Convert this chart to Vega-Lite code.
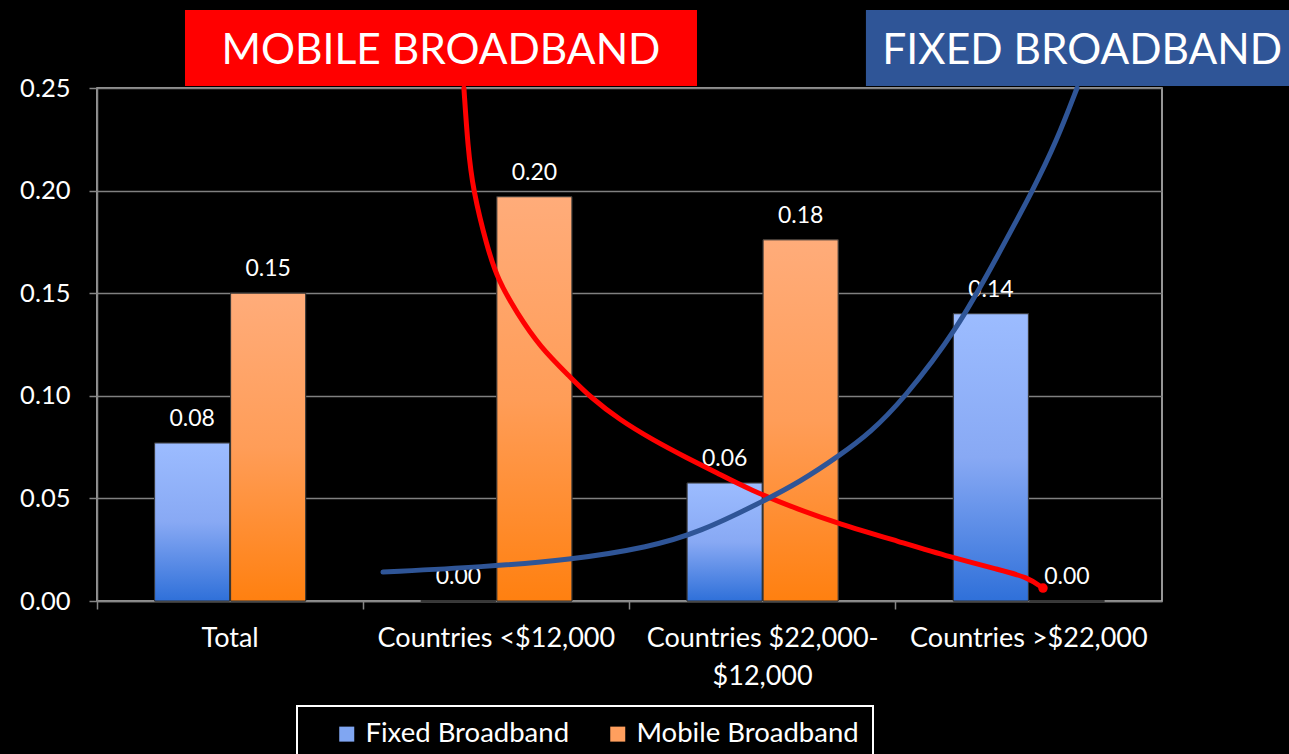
{
  "$schema": "https://vega.github.io/schema/vega-lite/v6.json",
  "width": 1065,
  "height": 513,
  "autosize": {"type": "none"},
  "padding": {"left": 97, "top": 88, "right": 127, "bottom": 153},
  "background": "#000000",
  "config": {
    "font": "Lato",
    "view": {"stroke": "#c8c8c8", "strokeWidth": 1.5},
    "legend": {"strokeWidth": 2}
  },
  "datasets": {
    "bars": [
      {"category": "Total", "series": "Fixed Broadband", "value": 0.077},
      {"category": "Total", "series": "Mobile Broadband", "value": 0.150},
      {"category": "Countries <$12,000", "series": "Fixed Broadband", "value": 0.0},
      {"category": "Countries <$12,000", "series": "Mobile Broadband", "value": 0.197},
      {"category": "Countries $22,000-$12,000", "series": "Fixed Broadband", "value": 0.0575},
      {"category": "Countries $22,000-$12,000", "series": "Mobile Broadband", "value": 0.176},
      {"category": "Countries >$22,000", "series": "Fixed Broadband", "value": 0.140},
      {"category": "Countries >$22,000", "series": "Mobile Broadband", "value": 0.0}
    ],
    "boxes": [
      {"kind": "mobile", "label": "MOBILE BROADBAND", "x0": 0.3305, "x1": 2.2535, "y0": 0.2510, "y1": 0.2880, "xc": 1.292, "yc": 0.2680},
      {"kind": "fixed", "label": "FIXED BROADBAND", "x0": 2.888, "x1": 4.52, "y0": 0.2510, "y1": 0.2880, "xc": 3.700, "yc": 0.2680}
    ],
    "curves": [
      {"series": "mobile", "x": 1.378, "y": 0.2500},
      {"series": "mobile", "x": 1.393, "y": 0.2212},
      {"series": "mobile", "x": 1.412, "y": 0.2003},
      {"series": "mobile", "x": 1.465, "y": 0.1725},
      {"series": "mobile", "x": 1.506, "y": 0.1564},
      {"series": "mobile", "x": 1.577, "y": 0.1404},
      {"series": "mobile", "x": 1.664, "y": 0.1238},
      {"series": "mobile", "x": 1.777, "y": 0.1092},
      {"series": "mobile", "x": 1.852, "y": 0.0994},
      {"series": "mobile", "x": 1.964, "y": 0.0882},
      {"series": "mobile", "x": 2.088, "y": 0.0785},
      {"series": "mobile", "x": 2.216, "y": 0.0697},
      {"series": "mobile", "x": 2.329, "y": 0.0624},
      {"series": "mobile", "x": 2.453, "y": 0.0541},
      {"series": "mobile", "x": 2.640, "y": 0.0443},
      {"series": "mobile", "x": 2.779, "y": 0.0380},
      {"series": "mobile", "x": 3.016, "y": 0.0288},
      {"series": "mobile", "x": 3.204, "y": 0.0214},
      {"series": "mobile", "x": 3.392, "y": 0.0151},
      {"series": "mobile", "x": 3.493, "y": 0.0117},
      {"series": "mobile", "x": 3.553, "y": 0.0063},
      {"series": "fixed", "x": 1.074, "y": 0.0141},
      {"series": "fixed", "x": 1.450, "y": 0.0166},
      {"series": "fixed", "x": 1.777, "y": 0.0200},
      {"series": "fixed", "x": 2.077, "y": 0.0263},
      {"series": "fixed", "x": 2.265, "y": 0.0336},
      {"series": "fixed", "x": 2.490, "y": 0.0478},
      {"series": "fixed", "x": 2.640, "y": 0.0580},
      {"series": "fixed", "x": 2.791, "y": 0.0711},
      {"series": "fixed", "x": 2.903, "y": 0.0819},
      {"series": "fixed", "x": 3.027, "y": 0.0980},
      {"series": "fixed", "x": 3.230, "y": 0.1321},
      {"series": "fixed", "x": 3.380, "y": 0.1676},
      {"series": "fixed", "x": 3.516, "y": 0.2003},
      {"series": "fixed", "x": 3.606, "y": 0.2247},
      {"series": "fixed", "x": 3.681, "y": 0.2500}
    ]
  },
  "layer": [
    {
      "data": {"name": "bars"},
      "encoding": {
        "x": {
          "field": "category", "type": "nominal",
          "sort": ["Total", "Countries <$12,000", "Countries $22,000-$12,000", "Countries >$22,000"],
          "scale": {"paddingInner": 0, "paddingOuter": 0},
          "axis": {
            "title": null, "labelAngle": 0, "bandPosition": 0,
            "tickSize": 8, "tickColor": "#868686", "tickWidth": 1.5,
            "domainColor": "#868686", "domainWidth": 1.5,
            "labelColor": "#ffffff", "labelFontSize": 27, "labelPadding": 16,
            "labelLineHeight": 38, "labelLimit": 400,
            "labelExpr": "datum.value == 'Countries $22,000-$12,000' ? ['Countries $22,000-', '$12,000'] : datum.label",
            "grid": false
          }
        },
        "xOffset": {
          "field": "series", "type": "nominal",
          "sort": ["Fixed Broadband", "Mobile Broadband"],
          "scale": {"paddingInner": 0.013, "paddingOuter": 0.758}
        },
        "y": {
          "field": "value", "type": "quantitative",
          "scale": {"domain": [0, 0.25], "nice": false, "zero": true},
          "axis": {
            "title": null, "values": [0, 0.05, 0.1, 0.15, 0.2, 0.25], "format": ".2f",
            "grid": true, "gridColor": "#808080", "gridWidth": 1.5,
            "tickSize": 8, "tickColor": "#868686", "tickWidth": 1.5,
            "domainColor": "#868686", "domainWidth": 1.5,
            "labelColor": "#ffffff", "labelFontSize": 25.5, "labelPadding": 19
          }
        }
      },
      "layer": [
        {
          "mark": {"type": "bar", "stroke": "#333333", "strokeWidth": 1},
          "encoding": {
            "color": {
              "field": "series", "type": "nominal",
              "scale": {"domain": ["Fixed Broadband", "Mobile Broadband"], "range": ["#80a6f2", "#ff9f5e"]},
              "legend": {
                "orient": "none", "legendX": 200, "legendY": 618, "direction": "horizontal",
                "title": null, "fillColor": "#000000", "strokeColor": "#ffffff",
                "padding": 14, "labelFontSize": 27.5, "labelColor": "#ffffff", "labelLimit": 400,
                "symbolType": "square", "symbolSize": 225, "symbolStrokeWidth": 0,
                "labelOffset": 5, "columnPadding": 12, "symbolOffset": 22
              }
            }
          }
        },
        {
          "transform": [{"filter": "datum.series == 'Fixed Broadband'"}],
          "mark": {
            "type": "bar", "stroke": "#333333", "strokeWidth": 1,
            "color": {"gradient": "linear", "x1": 0, "y1": 0, "x2": 0, "y2": 1, "stops": [{"offset": 0, "color": "#9cbcff"}, {"offset": 0.5, "color": "#88a9f4"}, {"offset": 1, "color": "#2f70d9"}]}
          }
        },
        {
          "transform": [{"filter": "datum.series == 'Mobile Broadband'"}],
          "mark": {
            "type": "bar", "stroke": "#333333", "strokeWidth": 1,
            "color": {"gradient": "linear", "x1": 0, "y1": 0, "x2": 0, "y2": 1, "stops": [{"offset": 0, "color": "#ffac7a"}, {"offset": 0.5, "color": "#ff9d58"}, {"offset": 1, "color": "#ff8010"}]}
          }
        },
        {
          "mark": {"type": "text", "dy": -17, "baseline": "alphabetic", "fontSize": 23, "color": "#ffffff"},
          "encoding": {"text": {"field": "value", "type": "quantitative", "format": ".2f"}}
        }
      ]
    },
    {
      "layer": [
        {
          "data": {"name": "boxes"},
          "mark": {"type": "rect"},
          "encoding": {
            "x": {"field": "x0", "type": "quantitative", "scale": {"domain": [0, 4], "nice": false, "zero": false}, "axis": null},
            "x2": {"field": "x1"},
            "y": {"field": "y0", "type": "quantitative", "scale": {"domain": [0, 0.25], "nice": false, "zero": false}, "axis": null},
            "y2": {"field": "y1"},
            "fill": {"field": "kind", "type": "nominal", "scale": {"domain": ["mobile", "fixed"], "range": ["#ff0000", "#2f5597"]}, "legend": null}
          }
        },
        {
          "data": {"name": "boxes"},
          "mark": {"type": "text", "fontSize": 42.5, "color": "#ffffff", "align": "center", "baseline": "middle"},
          "encoding": {
            "x": {"field": "xc", "type": "quantitative", "scale": {"domain": [0, 4], "nice": false, "zero": false}, "axis": null},
            "y": {"field": "yc", "type": "quantitative", "scale": {"domain": [0, 0.25], "nice": false, "zero": false}, "axis": null},
            "text": {"field": "label", "type": "nominal"}
          }
        },
        {
          "data": {"name": "curves"},
          "mark": {"type": "line", "strokeWidth": 5, "strokeCap": "round", "interpolate": "basis"},
          "encoding": {
            "x": {"field": "x", "type": "quantitative", "scale": {"domain": [0, 4], "nice": false, "zero": false}, "axis": null},
            "y": {"field": "y", "type": "quantitative", "scale": {"domain": [0, 0.25], "nice": false, "zero": false}, "axis": null},
            "stroke": {"field": "series", "type": "nominal", "scale": {"domain": ["mobile", "fixed"], "range": ["#ff0000", "#2f5597"]}, "legend": null}
          }
        },
        {
          "data": {"name": "curves"},
          "transform": [{"filter": "datum.series == 'mobile' && datum.x > 3.55"}],
          "mark": {"type": "circle", "size": 90, "opacity": 1, "color": "#ff0000"},
          "encoding": {
            "x": {"field": "x", "type": "quantitative", "scale": {"domain": [0, 4], "nice": false, "zero": false}, "axis": null},
            "y": {"field": "y", "type": "quantitative", "scale": {"domain": [0, 0.25], "nice": false, "zero": false}, "axis": null}
          }
        }
      ]
    }
  ],
  "resolve": {"scale": {"x": "independent", "y": "independent"}}
}
